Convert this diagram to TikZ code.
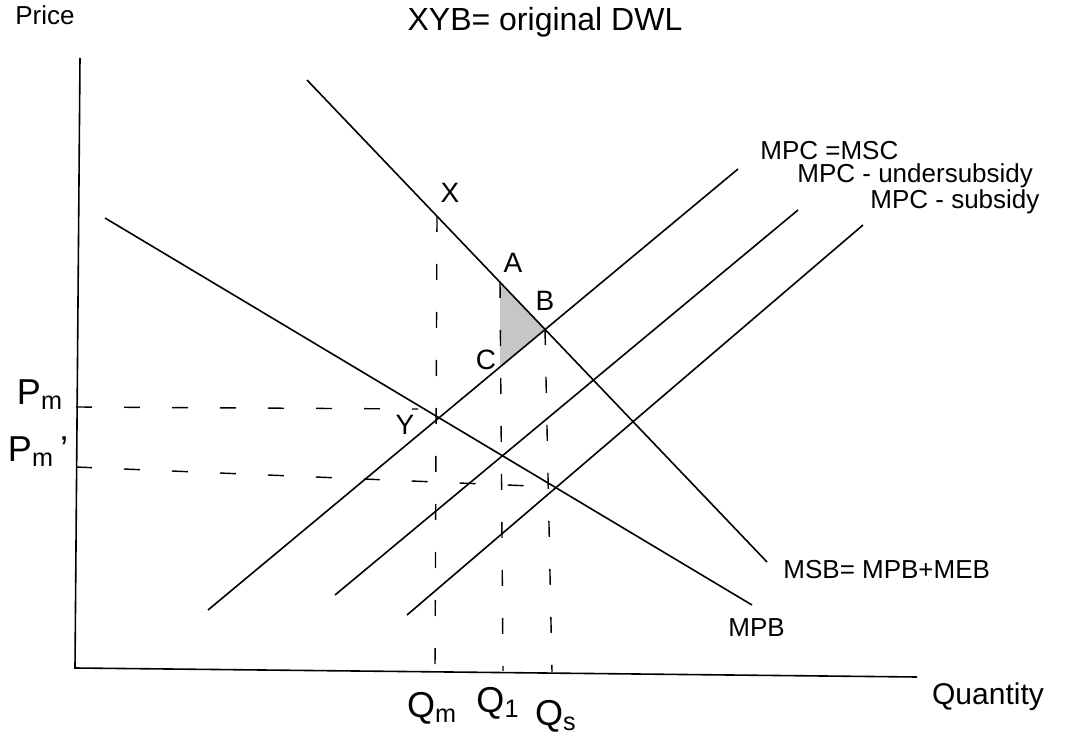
\documentclass[tikz,border=0pt]{standalone}
\usepackage{fontspec}
\setmainfont{Liberation Sans}
\begin{document}
\begin{tikzpicture}[x=0.5pt, y=-0.5pt,
  curve/.style={line width=0.8pt},
  guide/.style={line width=0.7pt, dash pattern=on 8pt off 16pt},
  lbl/.style={font=\fontsize{13}{15}\selectfont, inner sep=0pt},
  pt/.style={font=\fontsize{14}{16}\selectfont, inner sep=0pt},
  qlbl/.style={font=\fontsize{18}{20}\selectfont, inner sep=0pt}]
  \useasboundingbox (0,0) rectangle (1070,737);
  % axes
  \coordinate (ytop) at (80,58);
  \coordinate (o) at (75,668);
  \coordinate (xend) at (917,677);
  \node[lbl] (price) at (45,15) {Price};
  \node[lbl, font=\fontsize{15}{17}\selectfont] (qty) at (988,697) {Quantity};
  \node[lbl, font=\fontsize{16}{18}\selectfont] (title) at (545,22) {XYB= original DWL};
  % curve end points
  \coordinate (msb1) at (307,80);  \coordinate (msb2) at (767,562);
  \coordinate (mpb1) at (105,218); \coordinate (mpb2) at (752,605);
  \coordinate (msc1) at (208,610); \coordinate (msc2) at (738,169);
  \coordinate (und1) at (335,595); \coordinate (und2) at (798,210);
  \coordinate (sub1) at (407,615); \coordinate (sub2) at (863,225);
  % points on the curves
  \coordinate (A) at (500,282);
  \coordinate (B) at (545,329);
  \coordinate (C) at (500,367);
  \coordinate (Y) at (439,418);
  \coordinate (xtop) at (437,216);
  \coordinate (E) at (555,487);
  \coordinate (pmL) at (76,407);  \coordinate (pmR) at (418,409);
  \coordinate (pm2L) at (76,467);
  \coordinate (qmF) at (435,670); \coordinate (q1F) at (503,671); \coordinate (qsF) at (552,672);
  % DWL triangle
  \fill[gray!45] (A) -- (B) -- (C) -- cycle;
  \draw[curve] (ytop) -- (o) -- (xend);
  \draw[curve] (msb1) -- (msb2);
  \draw[curve] (mpb1) -- (mpb2);
  \draw[curve] (msc1) -- (msc2);
  \draw[curve] (und1) -- (und2);
  \draw[curve] (sub1) -- (sub2);
  % dashed guides
  \draw[guide] (xtop) -- (qmF);
  \draw[guide] (A) -- (q1F);
  \draw[guide] (B) -- (qsF);
  \draw[guide] (pmL) -- (pmR);
  \draw[guide] (pm2L) -- (E);
  % curve labels
  \node[lbl, anchor=west] (mscLbl) at (760,151) {MPC =MSC};
  \node[lbl, anchor=west] (undLbl) at (797,176) {MPC - undersubsidy};
  \node[lbl, anchor=west] (subLbl) at (870,202) {MPC - subsidy};
  \node[lbl, anchor=west] (msbLbl) at (783,570) {MSB= MPB+MEB};
  \node[lbl, anchor=west] (mpbLbl) at (728,628) {MPB};
  % point labels
  \node[pt] (Xlbl) at (450,193) {X};
  \node[pt] (Albl) at (513,263) {A};
  \node[pt] (Blbl) at (545,301) {B};
  \node[pt] (Clbl) at (486,360) {C};
  \node[pt] (Ylbl) at (405,425) {Y};
  \node[qlbl] (pm) at (40,395) {P\textsubscript{m}};
  \node[qlbl] (pm2) at (38,452) {P\textsubscript{m}\,'};
  \node[qlbl] (qm) at (432,708) {Q\textsubscript{m}};
  \node[qlbl] (q1) at (498,703) {Q\textsubscript{1}};
  \node[qlbl] (qs) at (556,716) {Q\textsubscript{s}};
\end{tikzpicture}
\end{document}
